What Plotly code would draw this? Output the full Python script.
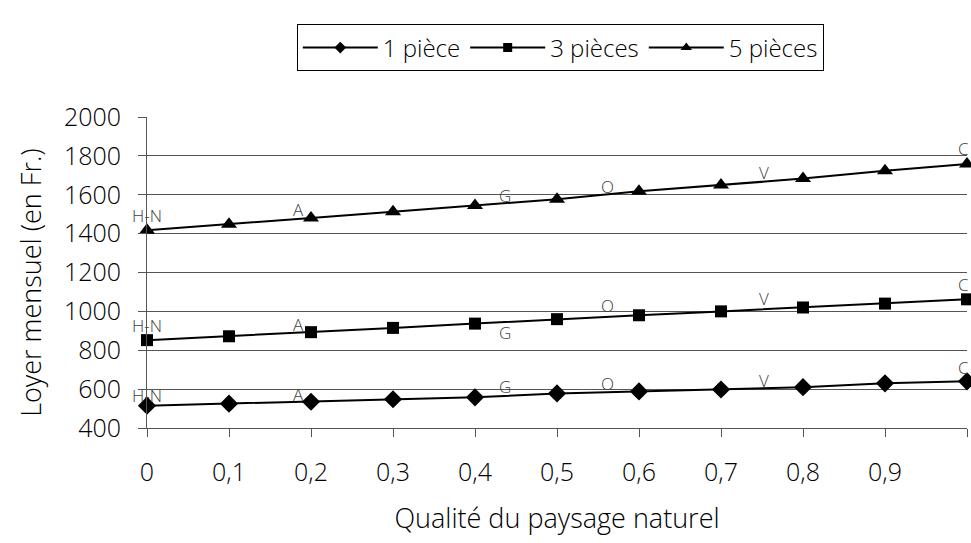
import plotly.graph_objects as go

qualite = [0, 0.1, 0.2, 0.3, 0.4, 0.5, 0.6, 0.7, 0.8, 0.9, 1.0]
loyer_1 = [515, 525, 535, 548, 558, 578, 588, 598, 610, 630, 640]
loyer_3 = [852, 872, 893, 915, 937, 960, 980, 1000, 1020, 1040, 1062]
loyer_5 = [1418, 1448, 1480, 1513, 1545, 1577, 1618, 1650, 1683, 1723, 1758]

series_names = ["1 pièce", "3 pièces", "5 pièces"]
symbols = ["diamond", "square", "triangle-up"]

# Place labels (communes) on each curve
lieux = ["H-N", "A", "G", "O", "V", "C"]
lieux_x = [0.0, 0.185, 0.437, 0.562, 0.752, 1.0]
lieux_y1 = [565, 570, 611, 627, 642, 709]
lieux_y3 = [925, 930, 889, 1028, 1064, 1136]
lieux_y5 = [1491, 1522, 1594, 1645, 1717, 1840]

y_ticks = [400, 600, 800, 1000, 1200, 1400, 1600, 1800, 2000]
x_ticks = qualite
x_tick_labels = ["0", "0,1", "0,2", "0,3", "0,4", "0,5", "0,6", "0,7", "0,8", "0,9", "1"]

FONT = "Open Sans"
W = 300
marker_sizes = {"diamond": 14, "square": 12, "triangle-up": 14}
legend_sizes = {"diamond": 9, "square": 9, "triangle-up": 10}

fig = go.Figure()
for name, ys, sym in zip(series_names, [loyer_1, loyer_3, loyer_5], symbols):
    fig.add_trace(go.Scatter(
        x=qualite, y=ys, name=name, mode="lines+markers",
        line=dict(color="black", width=2),
        marker=dict(symbol=sym, size=marker_sizes[sym], color="black"),
        cliponaxis=False, showlegend=False,
    ))
    # legend-only entry with smaller symbol
    fig.add_trace(go.Scatter(
        x=[None], y=[None], name=name, mode="lines+markers",
        line=dict(color="black", width=2),
        marker=dict(symbol=sym, size=legend_sizes[sym], color="black"),
        showlegend=True,
    ))

for ys in [lieux_y1, lieux_y3, lieux_y5]:
    for lab, lx, ly in zip(lieux, lieux_x, ys):
        last = lx >= 1.0
        fig.add_annotation(x=lx, y=ly, text=lab, showarrow=False,
                           xanchor="right" if last else "center",
                           xshift=4 if last else 0,
                           font=dict(family=FONT, size=17, color="#404040", weight=W))

# y-axis title as annotation (placed slightly below plot centre, as in the reference)
fig.add_annotation(xref="paper", yref="paper", x=-0.143, y=0.466,
                   text="Loyer mensuel (en Fr.)", textangle=-90, showarrow=False,
                   xanchor="center", yanchor="middle",
                   font=dict(family=FONT, size=27, color="black", weight=W))

fig.update_layout(
    width=971, height=543,
    margin=dict(l=147, r=4, t=117, b=115),
    paper_bgcolor="white", plot_bgcolor="white",
    font=dict(family=FONT, size=24, color="black", weight=W),
    showlegend=True,
    legend=dict(orientation="h", x=0.577, y=0.955, xanchor="center", yanchor="top",
                yref="container", xref="container",
                bordercolor="black", borderwidth=1, bgcolor="white",
                font=dict(family=FONT, size=24, weight=W), itemwidth=75,
                tracegroupgap=0),
)

fig.update_xaxes(
    range=[0, 1], tickvals=x_ticks, ticktext=x_tick_labels,
    showgrid=False, zeroline=False,
    showline=True, linecolor="#555555", linewidth=1,
    ticks="outside", ticklen=8, tickcolor="#555555",
    tickfont=dict(family=FONT, size=25, weight=W),
    ticklabelstandoff=14,
    title=dict(text="Qualité du paysage naturel", font=dict(family=FONT, size=27, weight=W), standoff=22),
)
fig.update_yaxes(
    range=[400, 2000], tickvals=y_ticks,
    showgrid=True, gridcolor="#555555", gridwidth=1,
    zeroline=False,
    showline=True, linecolor="#555555", linewidth=1,
    ticks="outside", ticklen=8, tickcolor="#555555",
    tickfont=dict(family=FONT, size=25, weight=W),
    ticklabelstandoff=12,
)

fig.write_html("out.html")
